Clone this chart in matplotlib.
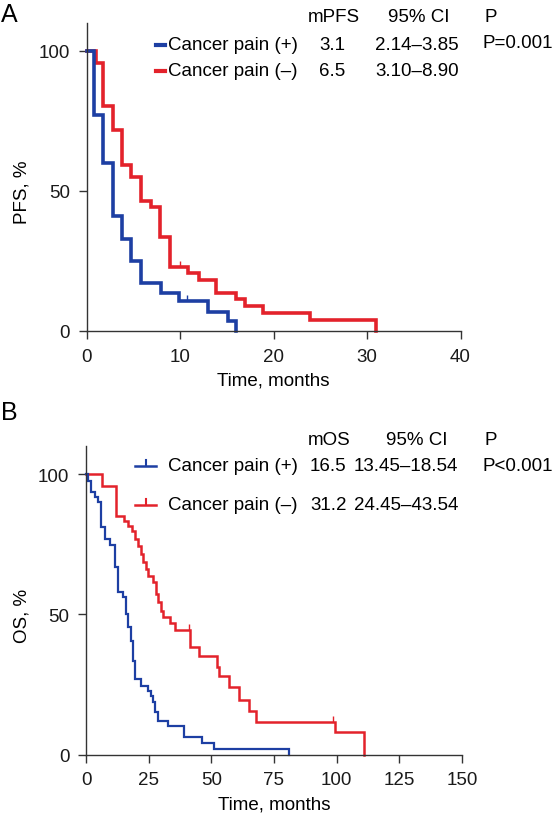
import matplotlib
matplotlib.use("Agg")
import matplotlib.pyplot as plt
from matplotlib.path import Path
from matplotlib.lines import Line2D

plt.rcParams['font.family'] = ['Liberation Sans', 'DejaVu Sans']

# ---------------- data ----------------
pfs_pos_t = [0, 0.8, 1.8, 2.8, 3.8, 4.8, 5.8, 8.0, 9.9, 13.0, 15.1, 16.0]
pfs_pos_s = [100, 77, 60, 41, 33, 25, 17, 13.7, 10.8, 6.8, 3.7, 0]
pfs_neg_t = [0, 1.0, 1.8, 2.8, 3.8, 4.8, 5.8, 6.9, 7.9, 8.9, 10.9, 12.0, 13.9,
             16.0, 17.0, 18.9, 23.9, 31.0]
pfs_neg_s = [100, 95.6, 80.5, 71.8, 59.4, 54.9, 46.5, 44.2, 33.7, 23.0, 20.7,
             18.3, 13.5, 11.4, 8.8, 6.4, 4.0, 0]
pfs_pos_cens_t = [10.7]
pfs_pos_cens_s = [10.8]
pfs_neg_cens_t = [10.0]
pfs_neg_cens_s = [23.0]

os_pos_t = [0, 0.9, 1.9, 3.6, 4.9, 5.9, 7.6, 9.6, 11.6, 12.9, 14.9, 16.0, 16.9,
            17.9, 18.7, 19.6, 21.9, 24.9, 25.9, 26.9, 27.6, 28.9, 32.9, 38.9,
            46.3, 50.9, 81.0]
os_pos_s = [100, 97.6, 93.5, 91.7, 89.9, 81.0, 76.8, 74.7, 66.8, 58.1, 56.1,
            50.1, 45.4, 40.6, 33.5, 27.0, 24.6, 22.8, 20.8, 18.7, 15.1, 12.1,
            10.3, 6.2, 4.2, 2.0, 0]
os_neg_t = [0, 6.3, 12.0, 15.2, 16.9, 18.3, 19.6, 20.9, 21.9, 22.9, 24.0, 24.9,
            26.7, 28.0, 28.9, 29.9, 30.9, 33.4, 35.6, 41.6, 44.9, 52.3, 52.9,
            56.9, 60.9, 64.9, 68.0, 99.5, 111.0]
os_neg_s = [100, 95.6, 84.9, 83.4, 81.6, 79.8, 76.8, 74.2, 71.5, 68.5, 66.2,
            63.6, 61.4, 57.2, 54.3, 51.3, 49.2, 46.8, 44.3, 38.3, 35.0, 31.1,
            27.9, 24.0, 19.6, 15.7, 11.8, 8.2, 0]
os_neg_cens_t = [40.9, 98.5]
os_neg_cens_s = [44.3, 11.8]

pfs_xticks = [0, 10, 20, 30, 40]
os_xticks = [0, 25, 50, 75, 100, 125, 150]
yticks = [0, 50, 100]

groups = ['Cancer pain (+)', 'Cancer pain (\u2013)']
pfs_median = ['3.1', '6.5']
pfs_ci = ['2.14\u20133.85', '3.10\u20138.90']
pfs_p = 'P=0.001'
os_median = ['16.5', '31.2']
os_ci = ['13.45\u201318.54', '24.45\u201343.54']
os_p = 'P<0.001'

BLUE = '#1d3fa3'
RED = '#e3222b'
AXC = '#333333'
FS = 13.5

W, H = 554, 820
fig = plt.figure(figsize=(W / 100, H / 100), dpi=100)


def fx(x):
    return x / W


def fy(y):
    return 1 - y / H


def make_axes(x0, x1, y0, ytop, xmax, ymax):
    ax = fig.add_axes([fx(x0), fy(y0), fx(x1) - fx(x0), fy(ytop) - fy(y0)])
    ax.set_xlim(0, xmax)
    ax.set_ylim(0, ymax)
    for s in ['top', 'right']:
        ax.spines[s].set_visible(False)
    for s in ['left', 'bottom']:
        ax.spines[s].set_color(AXC)
        ax.spines[s].set_linewidth(1.0)
    ax.tick_params(direction='out', length=6, width=1.0, color=AXC,
                   labelsize=FS, pad=6, labelcolor='#1a1a1a')
    ax.set_yticks(yticks)
    return ax


cens_marker = Path([(0, 0), (0, 1)], [Path.MOVETO, Path.LINETO])

# ---------------- panel A ----------------
axA = make_axes(86.5, 460.5, 332, 24, 40, (332 - 24) / 2.8)
axA.step(pfs_neg_t, pfs_neg_s, where='post', color=RED, lw=2.6,
         solid_joinstyle='miter', clip_on=False)
axA.step(pfs_pos_t, pfs_pos_s, where='post', color=BLUE, lw=2.6,
         solid_joinstyle='miter', clip_on=False)
axA.plot(pfs_neg_cens_t, pfs_neg_cens_s, ls='none', marker=cens_marker,
         ms=8, mec=RED, mew=1.0)
axA.plot(pfs_pos_cens_t, pfs_pos_cens_s, ls='none', marker=cens_marker,
         ms=8, mec=BLUE, mew=1.0)
axA.set_xticks(pfs_xticks)
axA.set_xlabel('Time, months', fontsize=FS)
axA.xaxis.set_label_coords(0.5, -(381 - 332) / (332 - 24))
axA.xaxis.label.set_va('center')
axA.set_ylabel('PFS, %', fontsize=FS)
axA.yaxis.set_label_coords((22 - 86.5) / 374, (332 - 192) / (332 - 24))
axA.yaxis.label.set_va('center')

fig.text(fx(1), fy(15), 'A', fontsize=18, va='center', ha='left')
hdrA_y, rowA_y = 18, [46, 72]
fig.text(fx(308), fy(hdrA_y), 'mPFS', fontsize=FS, va='center')
fig.text(fx(388), fy(hdrA_y), '95% CI', fontsize=FS, va='center')
fig.text(fx(485), fy(hdrA_y), 'P', fontsize=FS, va='center')
for i, col in enumerate([BLUE, RED]):
    y = rowA_y[i]
    fig.add_artist(Line2D([fx(156), fx(165)], [fy(y), fy(y)], color=col, lw=3.0))
    fig.text(fx(168), fy(y), groups[i], fontsize=FS, va='center')
    fig.text(fx(319), fy(y), pfs_median[i], fontsize=FS, va='center')
    fig.text(fx(375), fy(y), pfs_ci[i], fontsize=FS, va='center')
fig.text(fx(483), fy(rowA_y[0] - 2), pfs_p, fontsize=FS, va='center')

# ---------------- panel B ----------------
axB = make_axes(86, 462, 755.7, 446.7, 150, (755.7 - 446.7) / 2.807)
axB.step(os_neg_t, os_neg_s, where='post', color=RED, lw=1.8,
         solid_joinstyle='miter', clip_on=False)
axB.step(os_pos_t, os_pos_s, where='post', color=BLUE, lw=1.6,
         solid_joinstyle='miter', clip_on=False)
axB.plot(os_neg_cens_t, os_neg_cens_s, ls='none', marker=cens_marker,
         ms=9, mec=RED, mew=1.0)
axB.set_xticks(os_xticks)
axB.set_xlabel('Time, months', fontsize=FS)
axB.xaxis.set_label_coords(0.5, -(805 - 755.7) / (755.7 - 446.7))
axB.xaxis.label.set_va('center')
axB.set_ylabel('OS, %', fontsize=FS)
axB.yaxis.set_label_coords((22 - 86) / 376, (755.7 - 616) / (755.7 - 446.7))
axB.yaxis.label.set_va('center')

fig.text(fx(1), fy(413), 'B', fontsize=18, va='center', ha='left')
hdrB_y, rowB_y = 441, [467, 506]
fig.text(fx(308), fy(hdrB_y), 'mOS', fontsize=FS, va='center')
fig.text(fx(386), fy(hdrB_y), '95% CI', fontsize=FS, va='center')
fig.text(fx(485), fy(hdrB_y), 'P', fontsize=FS, va='center')
for i, col in enumerate([BLUE, RED]):
    y = rowB_y[i]
    fig.add_artist(Line2D([fx(135), fx(156)], [fy(y), fy(y)], color=col, lw=1.8))
    fig.add_artist(Line2D([fx(145.5), fx(145.5)], [fy(y), fy(y - 6)], color=col, lw=1.5))
    fig.text(fx(168), fy(y), groups[i], fontsize=FS, va='center')
    fig.text(fx(310), fy(y), os_median[i], fontsize=FS, va='center')
    fig.text(fx(354), fy(y), os_ci[i], fontsize=FS, va='center')
fig.text(fx(483), fy(rowB_y[0]), os_p, fontsize=FS, va='center')

fig.savefig('out.png', dpi=100)
